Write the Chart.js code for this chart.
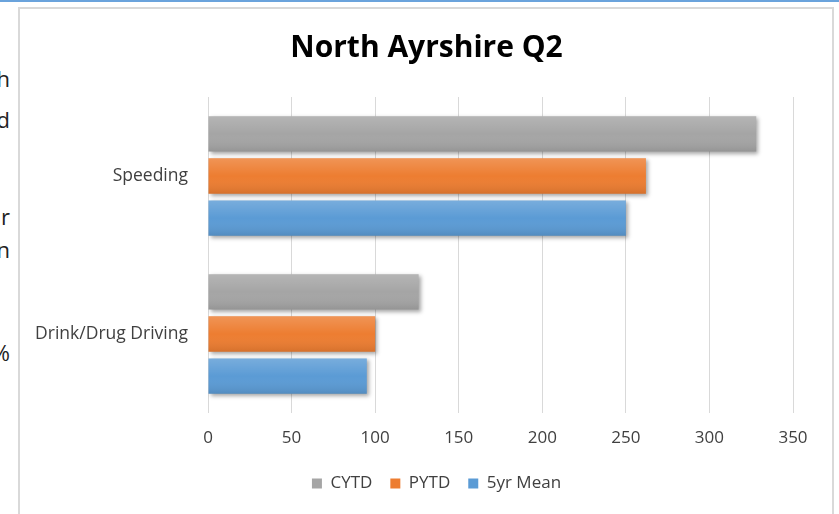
<!DOCTYPE html>
<html>
<head>
<meta charset="utf-8">
<script src="https://cdn.jsdelivr.net/npm/chart.js@4.4.1/dist/chart.umd.min.js"></script>
<style>
  body { margin: 0; background: #fff; font-family: "Open Sans", sans-serif; }
  #page { position: relative; width: 839px; height: 514px; overflow: hidden; }
  #topline { position: absolute; left: 0; top: 0; width: 839px; height: 2px; background: #6aa3dc; }
  #frame { position: absolute; left: 18px; top: 7px; width: 812px; height: 530px; border: 2px solid #d9d9d9; z-index: 2; pointer-events: none; }
  .frag { position: absolute; left: -30px; width: 40px; text-align: right; font-size: 22px; color: #222; line-height: 1; }
  canvas { position: absolute; left: 0; top: 0; z-index: 1; }
</style>
</head>
<body>
<div id="page">
  <div id="topline"></div>
  <!-- ends of the text lines running beside the chart -->
  <span class="frag" style="top:67px">h</span>
  <span class="frag" style="top:108px">d</span>
  <span class="frag" style="top:205px">r</span>
  <span class="frag" style="top:238px">n</span>
  <span class="frag" style="top:341px">%</span>
  <div id="frame"></div>
  <canvas id="chart" width="839" height="514"></canvas>
</div>
<script>
  const categories = ['Speeding', 'Drink/Drug Driving'];
  const cytd = [328, 126];
  const pytd = [262, 100];
  const fiveYrMean = [250, 95];
  const xTicks = [0, 50, 100, 150, 200, 250, 300, 350];

  const FONT = '"Open Sans", sans-serif';

  // soft drop shadow under every bar
  const barShadow = {
    id: 'barShadow',
    beforeDatasetDraw(chart) {
      const ctx = chart.ctx;
      ctx.save();
      ctx.shadowColor = 'rgba(0, 0, 0, 0.35)';
      ctx.shadowBlur = 4;
      ctx.shadowOffsetX = 2;
      ctx.shadowOffsetY = 2;
    },
    afterDatasetDraw(chart) {
      chart.ctx.restore();
    }
  };

  // light-to-dark sheen across each bar
  const barSheen = {
    id: 'barSheen',
    afterDatasetsDraw(chart) {
      const ctx = chart.ctx;
      chart.data.datasets.forEach((ds, i) => {
        chart.getDatasetMeta(i).data.forEach(bar => {
          const top = bar.y - bar.height / 2;
          const g = ctx.createLinearGradient(0, top, 0, top + bar.height);
          g.addColorStop(0, 'rgba(255, 255, 255, 0.18)');
          g.addColorStop(0.5, 'rgba(255, 255, 255, 0)');
          g.addColorStop(1, 'rgba(0, 0, 0, 0.10)');
          ctx.fillStyle = g;
          ctx.fillRect(bar.base, top, bar.x - bar.base, bar.height);
        });
      });
    }
  };

  // title and legend are centred on the frame rather than the canvas
  const centreNudge = {
    id: 'centreNudge',
    afterLayout(chart) {
      chart.titleBlock.left += 20;
      chart.titleBlock.right += 20;
      chart.legend.left += 30;
      chart.legend.right += 30;
    }
  };

  const ctx = document.getElementById('chart').getContext('2d');
  const chart = new Chart(ctx, {
    type: 'bar',
    data: {
      labels: categories,
      datasets: [
        { label: 'CYTD', data: cytd, backgroundColor: '#a5a5a5' },
        { label: 'PYTD', data: pytd, backgroundColor: '#ed7d31' },
        { label: '5yr Mean', data: fiveYrMean, backgroundColor: '#5b9bd5' }
      ]
    },
    options: {
      indexAxis: 'y',
      responsive: false,
      animation: false,
      layout: { padding: { left: 20, right: 46, top: 0, bottom: 12 } },
      datasets: {
        bar: { categoryPercentage: 0.8, barPercentage: 0.84 }
      },
      plugins: {
        title: {
          display: true,
          text: 'North Ayrshire Q2',
          color: '#000',
          font: { family: FONT, size: 30, weight: 'bold' },
          padding: { top: 30, bottom: 31 }
        },
        legend: {
          position: 'bottom',
          labels: {
            color: '#404040',
            font: { family: FONT, size: 17 },
            boxWidth: 10,
            boxHeight: 10,
            padding: 18
          }
        },
        tooltip: { enabled: false }
      },
      scales: {
        x: {
          min: 0,
          max: 350,
          afterBuildTicks: scale => { scale.ticks = xTicks.map(v => ({ value: v })); },
          grid: { color: '#d9d9d9', drawTicks: false },
          border: { display: false },
          ticks: { color: '#404040', font: { family: FONT, size: 17 }, padding: 15 },
          afterFit: scale => { scale.height = 44; }
        },
        y: {
          grid: { display: false, drawTicks: false },
          border: { display: false },
          ticks: { color: '#404040', font: { family: FONT, size: 17.5 }, padding: 20 },
          afterFit: scale => { scale.width = 188; }
        }
      }
    },
    plugins: [barShadow, barSheen, centreNudge]
  });
</script>
</body>
</html>
